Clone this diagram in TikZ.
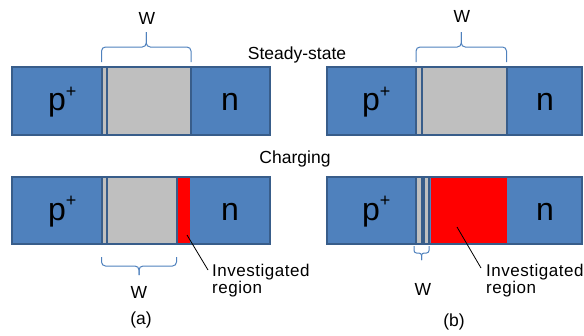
\documentclass[tikz,border=0pt]{standalone}
\usepackage{fontspec}
\setmainfont{Liberation Sans}
\newfontfamily\trk[LetterSpace=3]{Liberation Sans}
\definecolor{pblue}{HTML}{4F81BD}
\definecolor{pdark}{HTML}{385D8A}
\definecolor{pgray}{HTML}{BFBFBF}
\definecolor{pred}{HTML}{FF0000}
\newcommand\pplus{p\raisebox{13.5pt}{\fontsize{18}{18}\selectfont +}}
\begin{document}
\begin{tikzpicture}[x=1pt,y=-1pt,
  bar/.style={fill=pblue, draw=pdark, line width=2pt},
  gbox/.style={fill=pgray, draw=pdark, line width=2pt},
  rbox/.style={fill=pred},
  big/.style={font=\fontsize{32}{36}\selectfont, inner sep=0, anchor=base west},
  lbl/.style={font=\fontsize{17.5}{20}\selectfont, inner sep=0, anchor=base},
  inv/.style={font=\fontsize{17}{20}\selectfont\trk, inner sep=0, anchor=base west},
  brc/.style={draw=pblue, line width=1pt, rounded corners=4pt},
  lead/.style={draw=black, line width=0.8pt}]
\useasboundingbox (0,0) rectangle (584,335);

% ---- top (a)
\draw[bar] (12,66.5) rectangle (270,134.5);
\draw[gbox] (101.5,66.5) rectangle (106.5,134.5);
\draw[gbox] (106.5,66.5) rectangle (191,134.5);
\node[big] (pTA) at (48,110.5) {\pplus};
\node[big] (nTA) at (221,110.5) {n};
\draw[brc] (101.5,62) -- (101.5,47) -- (146.25,47) -- (146.25,32);
\draw[brc] (191,62) -- (191,47) -- (146.25,47) -- (146.25,32);
\node[lbl] (wTA) at (147,24) {W};

% ---- top (b)
\draw[bar] (327,66.5) rectangle (582,134.5);
\draw[gbox] (416,66.5) rectangle (421.5,134.5);
\draw[gbox] (421.5,66.5) rectangle (506.5,134.5);
\node[big] (pTB) at (362,110.5) {\pplus};
\node[big] (nTB) at (536,110.5) {n};
\draw[brc] (416,62) -- (416,47) -- (461.25,47) -- (461.25,32);
\draw[brc] (506.5,62) -- (506.5,47) -- (461.25,47) -- (461.25,32);
\node[lbl] (wTB) at (462,22) {W};

\node[lbl] (steady) at (297,59) {Steady-state};
\node[lbl] (charg) at (295,163) {Charging};

% ---- bottom (a)
\draw[bar] (12,176.5) rectangle (270,243.5);
\draw[gbox] (101.5,176.5) rectangle (106.5,243.5);
\draw[gbox] (106.5,176.5) rectangle (176.5,243.5);
\fill[rbox] (177.5,177.5) rectangle (189.5,242.5);
\node[big] (pBA) at (48,220) {\pplus};
\node[big] (nBA) at (221,220) {n};
\draw[brc] (101.5,257) -- (101.5,266) -- (139,266) -- (139,275);
\draw[brc] (176.5,257) -- (176.5,266) -- (139,266) -- (139,275);
\node[lbl] (wBA) at (139,298) {W};
\node[lbl] (capA) at (141,324) {(a)};
\node[inv] (iA1) at (212,276) {Investigated};
\node[inv] (iA2) at (212,293) {region};
\coordinate (lA1) at (187,235);
\coordinate (lA2) at (208,270);
\draw[lead] (lA1) -- (lA2);

% ---- bottom (b)
\draw[bar] (327,176.5) rectangle (582,243.5);
\draw[gbox] (416,176.5) rectangle (421.5,243.5);
\draw[gbox] (423.5,176.5) rectangle (429,243.5);
\fill[rbox] (430.5,177.5) rectangle (507,242.5);
\node[big] (pBB) at (362,220) {\pplus};
\node[big] (nBB) at (536,220) {n};
\draw[brc, rounded corners=2.5pt] (414,246) -- (414,253) -- (421.5,253) -- (421.5,260);
\draw[brc, rounded corners=2.5pt] (429,246) -- (429,253) -- (421.5,253) -- (421.5,260);
\node[lbl] (wBB) at (423,295) {W};
\node[lbl] (capB) at (454,326) {(b)};
\node[inv] (iB1) at (486,276) {Investigated};
\node[inv] (iB2) at (486,293) {region};
\coordinate (lB1) at (457,227);
\coordinate (lB2) at (481,268);
\draw[lead] (lB1) -- (lB2);
\end{tikzpicture}
\end{document}
